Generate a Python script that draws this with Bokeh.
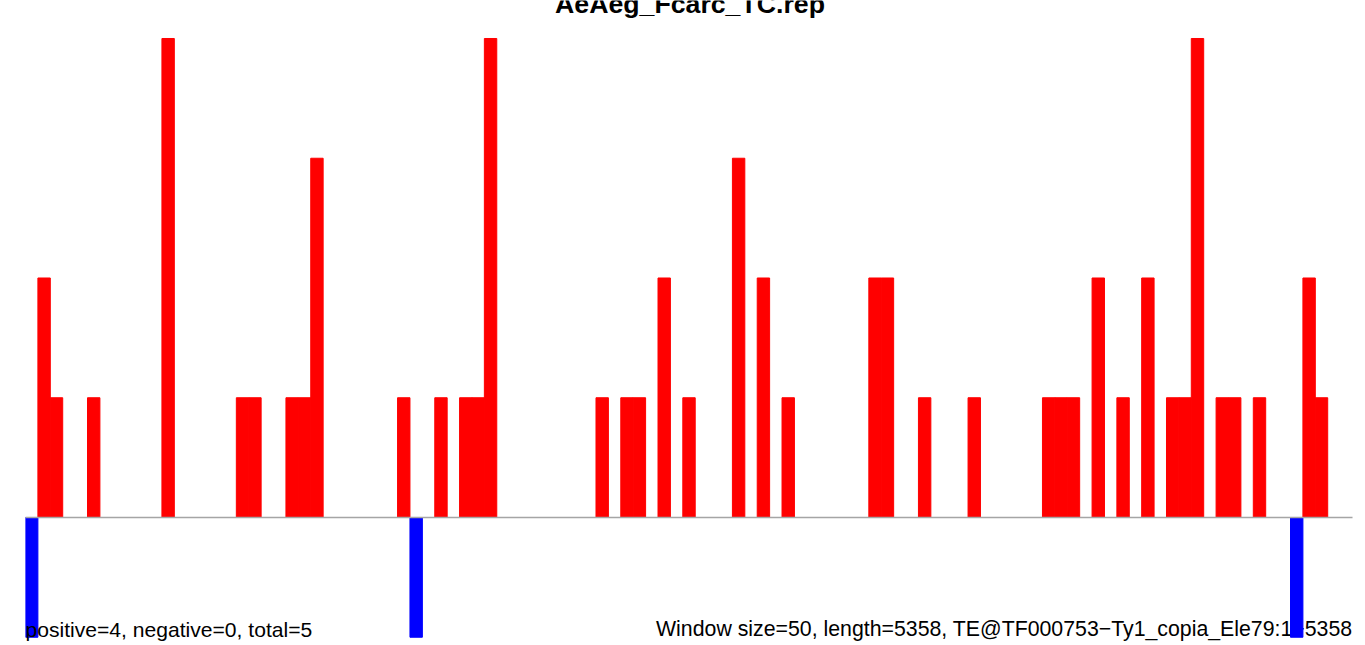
from bokeh.plotting import figure
from bokeh.models import Range1d, ColumnDataSource
from bokeh.core.properties import value
from bokeh.embed import file_html
from bokeh.resources import INLINE

# ---- data ----
title_text = "AeAeg_Fcarc_TC.rep"
window_size = 50
seq_length = 5358
left_note = "positive=4, negative=0, total=5"
right_note = "Window size=50, length=5358, TE@TF000753\u2212Ty1_copia_Ele79:1\u22125358"

pos_windows = [1, 2, 5, 11, 17, 18, 21, 22, 23, 30, 33, 35, 36, 37, 46, 48, 49, 51,
               53, 57, 59, 61, 68, 69, 72, 76, 82, 83, 84, 86, 88, 90, 92, 93, 94,
               96, 97, 99, 103, 104]
pos_counts = [2, 1, 1, 4, 1, 1, 1, 1, 3, 1, 1, 1, 1, 4, 1, 1, 1, 2,
              1, 3, 2, 1, 2, 2, 1, 1, 1, 1, 1, 2, 1, 2, 1, 1, 4,
              1, 1, 1, 2, 1]
neg_windows = [0, 31, 102]
neg_counts = [-1, -1, -1]

FONT = "Liberation Sans"

p = figure(width=1365, height=645, output_backend="svg", toolbar_location=None,
           x_axis_location=None, y_axis_location=None,
           x_range=Range1d(0, seq_length), y_range=Range1d(-1.0689, 4.3173),
           min_border_left=25, min_border_right=11, min_border_top=0, min_border_bottom=0,
           background_fill_color="white", border_fill_color="white")
p.outline_line_color = None
p.xgrid.visible = False
p.ygrid.visible = False

# right note drawn below the bars
p.text(x=[seq_length - 8], y=[-0.935], text=[right_note], text_align="right",
       text_baseline="alphabetic", text_font=value(FONT), text_font_size="21.3px",
       text_color="black")

pos_src = ColumnDataSource(dict(x=[w * window_size + window_size / 2 for w in pos_windows],
                                top=pos_counts))
neg_src = ColumnDataSource(dict(x=[w * window_size + window_size / 2 for w in neg_windows],
                                top=neg_counts))
p.vbar(x="x", top="top", bottom=0, width=window_size, source=pos_src,
       fill_color="#ff0000", line_color="#ff0000", line_width=1.0)
p.vbar(x="x", top="top", bottom=0, width=window_size, source=neg_src,
       fill_color="#0000ff", line_color="#0000ff", line_width=1.0)

p.line(x=[0, seq_length - 8], y=[0, 0], line_color="#a5a5a5", line_width=1.4)

p.text(x=[0], y=[-0.935], text=[left_note], text_align="left",
       text_baseline="alphabetic", text_font=value(FONT), text_font_size="21.1px",
       text_color="black")

p.text(x=[seq_length / 2], y=[4.292], text=[title_text], text_align="center",
       text_baseline="alphabetic", text_font=value(FONT), text_font_size="26.7px",
       text_font_style="bold", text_color="black")

open("out.html", "w").write(file_html(p, INLINE))
